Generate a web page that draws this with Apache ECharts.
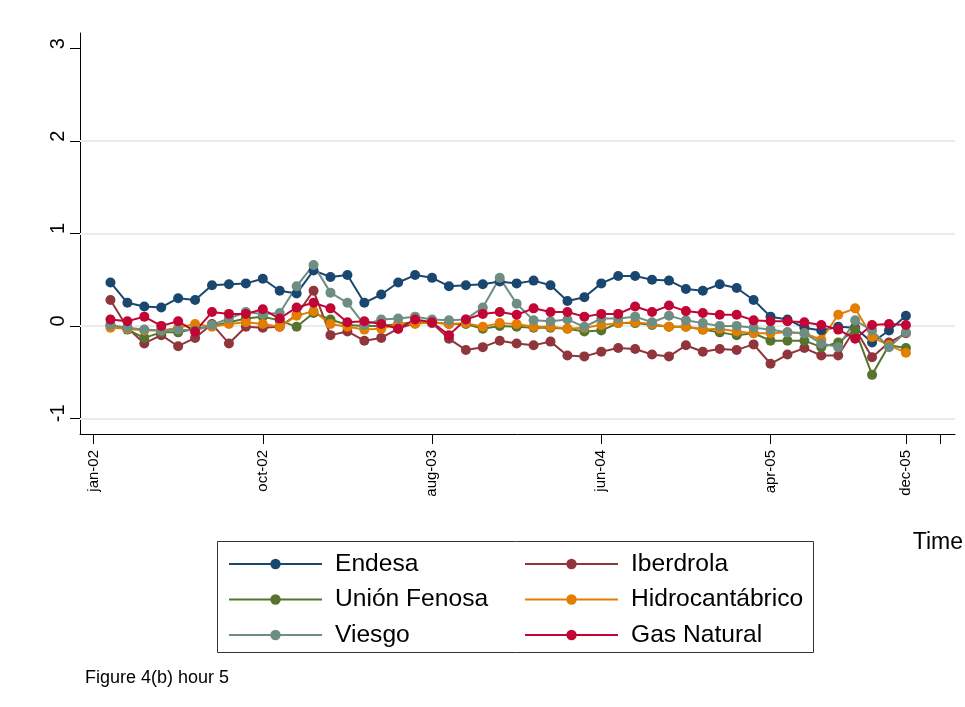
<!DOCTYPE html>
<html>
<head>
<meta charset="utf-8">
<script src="https://cdn.jsdelivr.net/npm/echarts@6/dist/echarts.min.js"></script>
<style>html,body{margin:0;padding:0;background:#fff;}#chart{width:965px;height:707px;}</style>
</head>
<body>
<div id="chart"></div>
<script>
// month index 0 = jan-02 ... 47 = dec-05
const monthIndex = Array.from({length: 48}, (_, i) => i);
const tickPositions = [-1, 9, 19, 29, 39, 47, 49];
const tickLabels = ['jan-02', 'oct-02', 'aug-03', 'jun-04', 'apr-05', 'dec-05', ''];
const yTicks = [-1, 0, 1, 2, 3];
const yGridLines = [-1, 0, 1, 2];

const endesa = [0.47,0.25,0.21,0.20,0.30,0.28,0.44,0.45,0.46,0.51,0.38,0.35,0.60,0.53,0.55,0.25,0.34,0.47,0.55,0.52,0.43,0.44,0.45,0.48,0.46,0.49,0.44,0.27,0.31,0.46,0.54,0.54,0.50,0.49,0.40,0.38,0.45,0.41,0.28,0.10,0.07,-0.02,-0.05,-0.01,-0.02,-0.18,-0.05,0.11];
const iberdrola = [0.28,-0.02,-0.19,-0.10,-0.22,-0.13,0.02,-0.19,-0.01,-0.02,-0.01,0.12,0.38,-0.10,-0.06,-0.16,-0.13,-0.03,0.03,0.03,-0.14,-0.26,-0.23,-0.16,-0.19,-0.21,-0.17,-0.32,-0.33,-0.28,-0.24,-0.25,-0.31,-0.33,-0.21,-0.28,-0.25,-0.26,-0.20,-0.41,-0.31,-0.24,-0.32,-0.32,-0.03,-0.34,-0.18,-0.08];
const unionFenosa = [0.01,-0.04,-0.13,-0.07,-0.07,-0.03,0.00,0.04,0.08,0.10,0.06,-0.01,0.14,0.07,0.01,0.00,0.00,0.02,0.04,0.04,0.02,0.02,-0.03,0.00,-0.01,-0.02,-0.02,-0.03,-0.06,-0.05,0.03,0.03,0.01,-0.01,-0.01,-0.04,-0.07,-0.10,-0.08,-0.16,-0.16,-0.16,-0.23,-0.18,-0.04,-0.53,-0.21,-0.24];
const hidrocantabrico = [-0.02,-0.03,-0.05,-0.05,-0.02,0.02,-0.01,0.02,0.04,0.02,-0.01,0.11,0.16,0.02,-0.01,-0.04,-0.03,0.02,0.02,0.04,0.02,0.03,-0.01,0.03,0.02,-0.01,-0.01,-0.03,-0.02,0.01,0.03,0.04,0.02,-0.01,-0.01,-0.04,-0.03,-0.06,-0.08,-0.08,-0.07,-0.08,-0.15,0.12,0.19,-0.12,-0.21,-0.29];
const viesgo = [0.01,-0.02,-0.04,-0.05,-0.04,-0.05,0.01,0.08,0.15,0.13,0.14,0.43,0.66,0.36,0.25,0.01,0.07,0.08,0.10,0.07,0.06,0.07,0.20,0.52,0.24,0.06,0.05,0.07,-0.01,0.08,0.08,0.10,0.04,0.11,0.06,0.03,0.00,0.00,-0.02,-0.04,-0.07,-0.08,-0.19,-0.23,0.06,-0.05,-0.23,-0.07];
const gasNatural = [0.07,0.05,0.10,0.00,0.05,-0.06,0.15,0.13,0.13,0.18,0.08,0.20,0.25,0.19,0.04,0.05,0.02,-0.03,0.07,0.04,-0.10,0.07,0.13,0.15,0.12,0.19,0.15,0.15,0.10,0.13,0.13,0.21,0.15,0.22,0.16,0.14,0.12,0.12,0.06,0.05,0.05,0.04,0.01,-0.04,-0.14,0.01,0.02,0.01];

const seriesNames = ['Endesa', 'Iberdrola', 'Unión Fenosa', 'Hidrocantábrico', 'Viesgo', 'Gas Natural'];
const seriesValues = [endesa, iberdrola, unionFenosa, hidrocantabrico, viesgo, gasNatural];
const seriesColors = ['#1a476f', '#90353b', '#55752f', '#e37e00', '#6e8e84', '#c10534'];

const FONT = 'Liberation Sans, Arial, Helvetica, sans-serif';

const series = [{
  name: '__grid', type: 'line', data: [], silent: true,
  markLine: {
    silent: true, symbol: 'none', z: 1, animation: false,
    label: {show: false},
    lineStyle: {color: '#e4edf0', width: 2, type: 'solid'},
    emphasis: {disabled: true},
    data: yGridLines.map(v => ({yAxis: v}))
  }
}];
seriesNames.forEach((name, k) => {
  series.push({
    name: name, type: 'line', color: seriesColors[k],
    data: monthIndex.map((m, i) => [m, seriesValues[k][i]]),
    symbol: 'circle', symbolSize: 10, showAllSymbol: true,
    lineStyle: {width: 2, color: seriesColors[k]},
    itemStyle: {color: seriesColors[k]},
    emphasis: {disabled: true},
    z: 3
  });
});

const legendCommon = {
  orient: 'vertical', itemWidth: 93, itemHeight: 13, itemGap: 10.5, padding: 0,
  selectedMode: false,
  textStyle: {fontFamily: FONT, fontSize: 24.6, color: '#000', lineHeight: 24, padding: [0, 0, 0, 8]}
};

const chart = echarts.init(document.getElementById('chart'), null, {renderer: 'canvas'});
chart.setOption({
  animation: false,
  backgroundColor: '#fff',
  textStyle: {fontFamily: FONT},
  grid: {left: 80, right: 10, top: 33, bottom: 273},
  xAxis: {
    type: 'value', min: -1.8, max: 49.9,
    axisLine: {show: true, onZero: false, lineStyle: {color: '#000', width: 1}},
    axisTick: {show: true, length: 10, customValues: tickPositions, lineStyle: {color: '#000'}},
    axisLabel: {
      customValues: tickPositions, rotate: 90, margin: 16, fontSize: 15, color: '#000', fontFamily: FONT,
      formatter: v => tickLabels[tickPositions.indexOf(v)] || ''
    },
    splitLine: {show: false}
  },
  yAxis: {
    type: 'value', min: -1.17, max: 3.17,
    axisLine: {show: true, onZero: false, lineStyle: {color: '#000', width: 1}},
    axisTick: {show: true, length: 10, customValues: yTicks, lineStyle: {color: '#000'}},
    axisLabel: {customValues: yTicks, rotate: 90, margin: 12, fontSize: 20, color: '#000', fontFamily: FONT,
      padding: [0, 0, 0, 10]},
    splitLine: {show: false}
  },
  legend: [
    Object.assign({}, legendCommon, {left: 228, top: 551.5, data: ['Endesa', 'Unión Fenosa', 'Viesgo']}),
    Object.assign({}, legendCommon, {left: 524, top: 551.5, data: ['Iberdrola', 'Hidrocantábrico', 'Gas Natural']})
  ],
  title: [
    {text: 'Time', right: 2, top: 531, padding: 0, textStyle: {fontFamily: FONT, fontSize: 23, fontWeight: 'normal', color: '#000'}},
    {text: 'Figure 4(b) hour 5', left: 85, top: 669, padding: 0, textStyle: {fontFamily: FONT, fontSize: 18, fontWeight: 'normal', color: '#000'}}
  ],
  graphic: [{
    type: 'rect', silent: true,
    shape: {x: 217.5, y: 541.5, width: 596, height: 111},
    style: {fill: 'none', stroke: '#333', lineWidth: 1}
  }],
  series: series
});
</script>
</body>
</html>
